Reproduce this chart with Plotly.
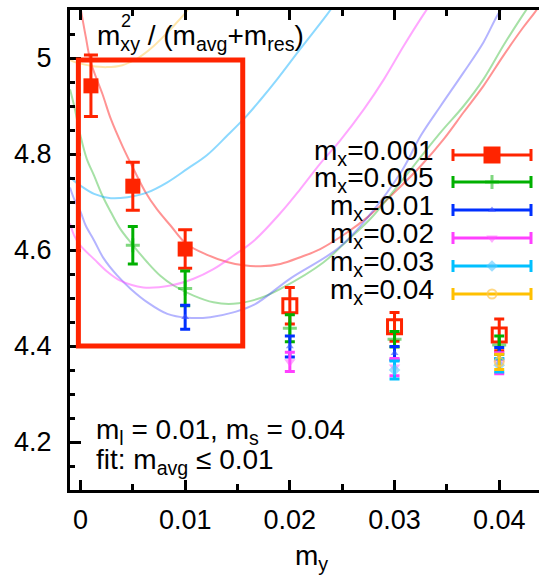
import plotly.graph_objects as go

# ---------------- data ----------------
mx_labels = ["0.001", "0.005", "0.01", "0.02", "0.03", "0.04"]
colors = ["#ff2400", "#00b000", "#0030ff", "#ff40ff", "#00c0ff", "#ffc000"]
curve_colors = ["rgba(255,40,40,0.5)", "rgba(0,170,0,0.35)", "rgba(40,40,255,0.35)",
                "rgba(255,60,255,0.45)", "rgba(0,170,255,0.45)", "rgba(255,190,40,0.4)"]

# mx = 0.001 (red): fitted range (filled) and the rest (open)
red_fit_my = [0.001, 0.005, 0.01]
red_fit_val = [4.942, 4.733, 4.602]
red_fit_err = [0.064, 0.050, 0.040]
red_my = [0.02, 0.03, 0.04]
red_val = [4.484, 4.440, 4.423]
red_err = [0.038, 0.030, 0.033]

green_my = [0.005, 0.01, 0.02, 0.03, 0.04]
green_val = [4.610, 4.520, 4.437, 4.414, 4.402]
green_err = [0.039, 0.036, 0.028, 0.016, 0.019]

blue_my = [0.01, 0.02, 0.03, 0.04]
blue_val = [4.460, 4.399, 4.385, 4.385]
blue_err = [0.025, 0.022, 0.014, 0.012]

magenta_my = [0.02, 0.03, 0.04]
magenta_val = [4.367, 4.356, 4.364]
magenta_err = [0.020, 0.018, 0.022]

cyan_my = [0.03, 0.04]
cyan_val = [4.350, 4.360]
cyan_err = [0.019, 0.014]

orange_my = [0.04]
orange_val = [4.367]
orange_err = [0.016]

# fit curves
fit_red_my = [0.0000, 0.0005, 0.0010, 0.0021, 0.0029, 0.0040, 0.0052, 0.0062, 0.0073, 0.0086,
              0.0101, 0.0121, 0.0140, 0.0156, 0.0172, 0.0191, 0.0210, 0.0229, 0.0255, 0.0274,
              0.0300, 0.0325, 0.0347, 0.0366, 0.0385, 0.0404, 0.0423, 0.0434, 0.0445]
fit_red_val = [5.105, 5.045, 4.990, 4.925, 4.873, 4.817, 4.763, 4.721, 4.685, 4.651,
               4.613, 4.590, 4.575, 4.568, 4.566, 4.571, 4.585, 4.602, 4.637, 4.668,
               4.720, 4.775, 4.831, 4.887, 4.942, 5.005, 5.064, 5.095, 5.130]

fit_green_my = [-0.0010, -0.0006, 0.0000, 0.0006, 0.0013, 0.0021, 0.0029, 0.0038, 0.0049, 0.0064,
                0.0076, 0.0089, 0.0108, 0.0127, 0.0146, 0.0172, 0.0191, 0.0232, 0.0255, 0.0277,
                0.0300, 0.0320, 0.0344, 0.0366, 0.0385, 0.0404, 0.0420, 0.0432]
fit_green_val = [4.935, 4.900, 4.838, 4.790, 4.755, 4.713, 4.679, 4.644, 4.613, 4.574,
                 4.547, 4.526, 4.505, 4.491, 4.488, 4.500, 4.519, 4.574, 4.620, 4.665,
                 4.725, 4.780, 4.845, 4.900, 4.956, 5.026, 5.081, 5.120]

fit_blue_my = [-0.0010, -0.0006, 0.0000, 0.0005, 0.0013, 0.0022, 0.0035, 0.0048, 0.0064, 0.0083,
               0.0102, 0.0124, 0.0146, 0.0166, 0.0200, 0.0247, 0.0277, 0.0307, 0.0325, 0.0344,
               0.0366, 0.0385, 0.0398, 0.0410]
fit_blue_val = [4.730, 4.706, 4.680, 4.651, 4.620, 4.583, 4.547, 4.519, 4.491, 4.467,
                4.459, 4.460, 4.470, 4.486, 4.540, 4.605, 4.675, 4.765, 4.838, 4.900,
                4.970, 5.033, 5.088, 5.130]

fit_magenta_my = [-0.0010, -0.0006, 0.0000, 0.0013, 0.0026, 0.0038, 0.0060, 0.0086, 0.0108, 0.0127,
                  0.0146, 0.0166, 0.0191, 0.0210, 0.0229, 0.0248, 0.0271, 0.0290, 0.0309, 0.0329,
                  0.0340]
fit_magenta_val = [4.655, 4.630, 4.609, 4.581, 4.554, 4.536, 4.522, 4.526, 4.540, 4.560,
                   4.588, 4.620, 4.677, 4.727, 4.780, 4.828, 4.894, 4.956, 5.026, 5.095,
                   5.130]

fit_cyan_my = [-0.0010, -0.0006, 0.0000, 0.0013, 0.0029, 0.0045, 0.0064, 0.0083, 0.0102, 0.0121,
               0.0140, 0.0159, 0.0172, 0.0188, 0.0210, 0.0236, 0.0245]
fit_cyan_val = [4.752, 4.744, 4.734, 4.717, 4.708, 4.710, 4.720, 4.741, 4.769, 4.798,
                4.838, 4.880, 4.913, 4.956, 5.019, 5.092, 5.120]

fit_orange_my = [-0.0010, -0.0006, 0.0010, 0.0025, 0.0040, 0.0055, 0.0070, 0.0086, 0.0101, 0.0110]
fit_orange_val = [4.996, 4.992, 4.984, 4.981, 4.985, 5.000, 5.025, 5.060, 5.096, 5.125]

# ---------------- figure ----------------
FONT = "Liberation Sans, Arial, Helvetica, sans-serif"
TXT = 28
fig = go.Figure()

fits = [(fit_red_my, fit_red_val), (fit_green_my, fit_green_val), (fit_blue_my, fit_blue_val),
        (fit_magenta_my, fit_magenta_val), (fit_cyan_my, fit_cyan_val), (fit_orange_my, fit_orange_val)]
for (fx, fy), cc in zip(fits, curve_colors):
    fig.add_trace(go.Scatter(x=fx, y=fy, mode="lines", line=dict(color=cc, width=2, shape="spline"),
                             hoverinfo="skip", showlegend=False))

def err(vals, c, w):
    return dict(type="data", array=vals, visible=True, color=c, thickness=3, width=w)

# marker styles per series
styles = [
    dict(symbol="square", size=15, color=colors[0]),
    dict(symbol="cross-thin", size=10, color=colors[1], line=dict(color="rgba(0,176,0,0.5)", width=3)),
    dict(symbol="triangle-up", size=7, color="rgba(60,80,255,0.6)"),
    dict(symbol="triangle-down", size=10, color="rgba(255,90,255,0.5)"),
    dict(symbol="diamond", size=9, color="rgba(90,200,255,0.6)"),
    dict(symbol="circle-open", size=9, color="rgba(255,200,80,0.7)", line=dict(width=2)),
]

fig.add_trace(go.Scatter(x=red_fit_my, y=red_fit_val, mode="markers", marker=styles[0],
                         error_y=err(red_fit_err, colors[0], 7), showlegend=False))
fig.add_trace(go.Scatter(x=red_my, y=red_val, mode="markers",
                         marker=dict(symbol="square-open", size=14, color=colors[0], line=dict(width=3)),
                         error_y=err(red_err, colors[0], 5), showlegend=False))
series = [(green_my, green_val, green_err), (blue_my, blue_val, blue_err),
          (magenta_my, magenta_val, magenta_err), (cyan_my, cyan_val, cyan_err),
          (orange_my, orange_val, orange_err)]
for i, (sx, sy, se) in enumerate(series, start=1):
    fig.add_trace(go.Scatter(x=sx, y=sy, mode="markers", marker=styles[i],
                             error_y=err(se, colors[i], 5), showlegend=False))

# ---- hand-made key (error-bar style samples), in pixel coordinates of an overlay axis ----
key_rows = [155, 182, 210, 238, 266, 294]
legend_styles = [dict(symbol="square", size=17, color=colors[0])] + styles[1:]
for i, ry in enumerate(key_rows):
    fig.add_trace(go.Scatter(x=[492], y=[ry], xaxis="x2", yaxis="y2", mode="markers",
                             marker=legend_styles[i], cliponaxis=False,
                             error_x=dict(type="constant", value=39, color=colors[i], thickness=3, width=6),
                             showlegend=False, hoverinfo="skip"))
    fig.add_annotation(x=436, y=ry - 3, xref="x2", yref="y2", xanchor="right", yanchor="middle",
                       text="m<sub>x</sub>=" + mx_labels[i], showarrow=False,
                       font=dict(family=FONT, size=TXT, color="black"))

# title text and notes
fig.add_annotation(x=95, y=37, xref="x2", yref="y2", xanchor="left", yanchor="middle",
                   text="m<sub>xy</sub> / (m<sub>avg</sub>+m<sub>res</sub>)", showarrow=False,
                   font=dict(family=FONT, size=TXT, color="black"))
fig.add_annotation(x=119, y=21, xref="x2", yref="y2", xanchor="left", yanchor="middle",
                   text="2", showarrow=False, font=dict(family=FONT, size=18, color="black"))
fig.add_annotation(x=94, y=431, xref="x2", yref="y2", xanchor="left", yanchor="middle",
                   text="m<sub>l</sub> = 0.01, m<sub>s</sub> = 0.04", showarrow=False,
                   font=dict(family=FONT, size=TXT, color="black"))
fig.add_annotation(x=94, y=461, xref="x2", yref="y2", xanchor="left", yanchor="middle",
                   text="fit: m<sub>avg</sub> \u2264 0.01", showarrow=False,
                   font=dict(family=FONT, size=TXT, color="black"))
# x-axis title (paper coordinates, below the plot area)
fig.add_annotation(x=(311 - 70) / 469, y=(490 - 577) / 480, xref="paper", yref="paper",
                   xanchor="center", yanchor="bottom", text="m<sub>y</sub>", showarrow=False,
                   font=dict(family=FONT, size=TXT, color="black"))

# red box around the fitted region
fig.add_shape(type="rect", x0=-0.0002, x1=0.0155, y0=4.4, y1=4.996, xref="x", yref="y",
              line=dict(color="#ff2400", width=5), layer="above")

fig.update_layout(
    width=539, height=578,
    margin=dict(l=70, r=0, t=10, b=88),
    paper_bgcolor="white", plot_bgcolor="white",
    font=dict(family=FONT, size=27, color="black"),
    showlegend=False,
    xaxis=dict(range=[-0.001, 0.0438], tickvals=[0, 0.01, 0.02, 0.03, 0.04],
               ticktext=["0", "0.01", "0.02", "0.03", "0.04"],
               showgrid=False, zeroline=False, showline=True, linecolor="black", linewidth=3,
               mirror="ticks", ticks="inside", ticklen=10, tickwidth=3, tickcolor="black",
               minor=dict(dtick=0.005, tick0=0, ticks="inside", ticklen=6, tickwidth=3, tickcolor="black"),
               ticklabelstandoff=4, tickfont=dict(size=27)),
    yaxis=dict(range=[4.1, 5.1], tickvals=[4.2, 4.4, 4.6, 4.8, 5.0],
               ticktext=["4.2", "4.4", "4.6", "4.8", "5"],
               showgrid=False, zeroline=False, showline=True, linecolor="black", linewidth=3,
               mirror=False, ticks="inside", ticklen=11, tickwidth=3, tickcolor="black",
               minor=dict(dtick=0.05, tick0=4.1, ticks="inside", ticklen=5, tickwidth=3, tickcolor="black"),
               ticklabelstandoff=10, tickfont=dict(size=27)),
    xaxis2=dict(range=[70, 539], overlaying="x", anchor="y2", visible=False),
    yaxis2=dict(range=[490, 10], overlaying="y", anchor="x2", visible=False),
)

fig.write_html("out.html")
